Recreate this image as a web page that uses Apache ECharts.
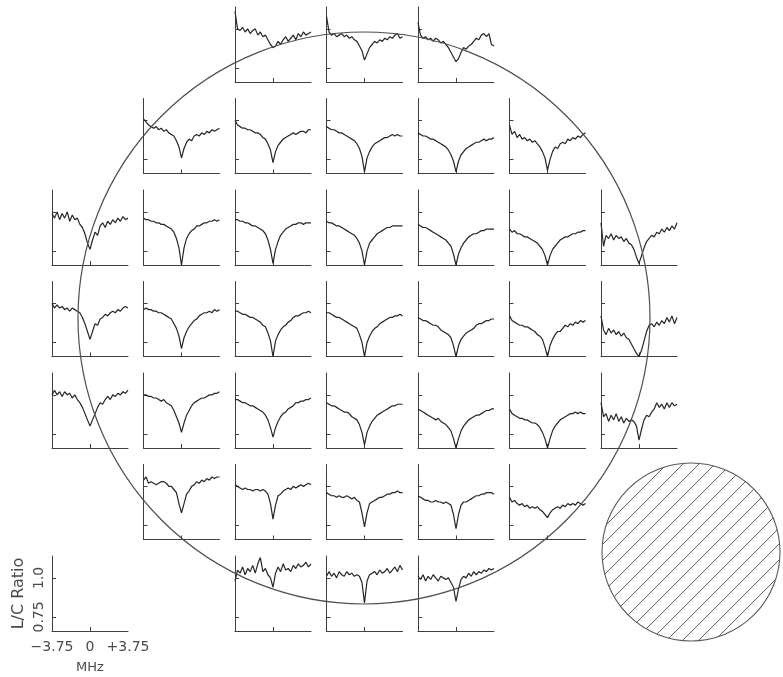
<!DOCTYPE html>
<html><head><meta charset="utf-8">
<script src="https://cdn.jsdelivr.net/npm/echarts@6/dist/echarts.min.js"></script>
<style>html,body{margin:0;padding:0;background:#fff}#c{width:783px;height:677px}</style>
</head><body><div id="c"></div>
<script>
// frequency offset (MHz)
const MHZ = [-3.75,-3.5,-3.25,-3,-2.75,-2.5,-2.25,-2,-1.75,-1.5,-1.25,-1,-0.75,-0.5,-0.25,0,0.25,0.5,0.75,1,1.25,1.5,1.75,2,2.25,2.5,2.75,3,3.25,3.5,3.75];
const Y_TICKS = [0.75, 1.0];
const X_TICK_LABELS = [-3.75, 0, 3.75];

// L/C ratio spectra, named by row / column of the wafer grid
const R0C2 = [1.11,1.00,0.99,1.01,0.98,1.00,0.97,0.99,1.00,0.96,0.98,0.95,0.96,0.93,0.90,0.88,0.89,0.92,0.90,0.93,0.95,0.92,0.94,0.96,0.93,0.97,0.95,0.98,0.96,0.97,0.98];
const R0C3 = [1.08,0.98,0.96,0.97,0.95,0.96,0.97,0.95,0.96,0.94,0.95,0.93,0.92,0.89,0.86,0.80,0.84,0.88,0.90,0.92,0.91,0.93,0.92,0.94,0.93,0.95,0.94,0.96,0.97,0.94,0.95];
const R0C4 = [1.04,0.96,0.94,0.95,0.93,0.94,0.92,0.94,0.93,0.91,0.92,0.90,0.88,0.85,0.82,0.79,0.81,0.85,0.88,0.87,0.89,0.90,0.92,0.94,0.93,0.96,0.97,0.95,0.97,0.90,0.89];

const R1C1 = [1.01,0.99,0.97,0.96,0.95,0.96,0.94,0.95,0.93,0.94,0.92,0.91,0.90,0.87,0.83,0.76,0.82,0.86,0.88,0.87,0.90,0.91,0.90,0.92,0.91,0.93,0.92,0.94,0.93,0.94,0.95];
const R1C2 = [1.00,0.97,0.96,0.95,0.95,0.94,0.94,0.93,0.92,0.92,0.91,0.89,0.88,0.85,0.81,0.73,0.80,0.84,0.86,0.88,0.89,0.90,0.91,0.92,0.91,0.92,0.93,0.93,0.92,0.94,0.94];
const R1C3 = [0.96,0.95,0.94,0.94,0.93,0.92,0.92,0.91,0.90,0.89,0.88,0.87,0.85,0.82,0.77,0.67,0.76,0.80,0.83,0.85,0.86,0.87,0.88,0.89,0.89,0.90,0.91,0.90,0.91,0.90,0.90];
const R1C4 = [0.92,0.91,0.90,0.90,0.89,0.88,0.88,0.87,0.86,0.85,0.84,0.83,0.81,0.78,0.74,0.67,0.74,0.78,0.80,0.82,0.83,0.84,0.85,0.86,0.86,0.87,0.88,0.87,0.88,0.88,0.89];
const R1C5 = [0.97,0.91,0.93,0.89,0.91,0.88,0.89,0.87,0.88,0.86,0.87,0.85,0.83,0.80,0.76,0.68,0.75,0.80,0.83,0.82,0.85,0.86,0.85,0.88,0.87,0.89,0.88,0.90,0.89,0.91,0.92];

const R2C0 = [0.99,0.96,1.00,0.95,0.99,0.96,1.00,0.94,0.98,0.95,0.96,0.92,0.90,0.86,0.80,0.76,0.82,0.87,0.85,0.91,0.93,0.90,0.94,0.92,0.95,0.93,0.96,0.94,0.97,0.95,0.96];
const R2C1 = [0.96,0.95,0.95,0.94,0.94,0.93,0.93,0.92,0.92,0.91,0.90,0.89,0.87,0.83,0.77,0.66,0.77,0.83,0.86,0.88,0.89,0.91,0.91,0.92,0.93,0.93,0.94,0.94,0.95,0.94,0.95];
const R2C2 = [0.95,0.95,0.94,0.94,0.93,0.93,0.92,0.91,0.91,0.90,0.89,0.88,0.86,0.82,0.76,0.67,0.76,0.81,0.85,0.87,0.89,0.90,0.91,0.92,0.92,0.93,0.93,0.92,0.93,0.93,0.93];
const R2C3 = [0.94,0.93,0.93,0.92,0.91,0.91,0.90,0.89,0.88,0.87,0.86,0.85,0.83,0.80,0.75,0.66,0.75,0.80,0.82,0.84,0.86,0.87,0.88,0.89,0.90,0.90,0.91,0.91,0.91,0.91,0.91];
const R2C4 = [0.92,0.91,0.90,0.90,0.89,0.88,0.87,0.86,0.85,0.84,0.83,0.82,0.80,0.78,0.73,0.66,0.73,0.77,0.80,0.82,0.84,0.85,0.86,0.86,0.87,0.88,0.88,0.89,0.89,0.89,0.89];
const R2C5 = [0.89,0.87,0.88,0.86,0.86,0.85,0.84,0.84,0.83,0.82,0.81,0.80,0.78,0.76,0.72,0.66,0.72,0.76,0.78,0.80,0.82,0.83,0.84,0.84,0.85,0.86,0.86,0.87,0.87,0.88,0.88];
const R2C6 = [0.93,0.78,0.85,0.83,0.86,0.82,0.85,0.83,0.84,0.81,0.83,0.80,0.79,0.76,0.71,0.67,0.72,0.77,0.81,0.83,0.85,0.84,0.87,0.86,0.89,0.87,0.90,0.88,0.91,0.89,0.93];

const R3C0 = [1.00,0.97,0.99,0.97,0.98,0.96,0.97,0.95,0.97,0.96,0.95,0.94,0.91,0.87,0.82,0.77,0.82,0.87,0.86,0.90,0.91,0.93,0.92,0.94,0.95,0.94,0.96,0.95,0.97,0.98,0.97];
const R3C1 = [0.96,0.97,0.96,0.96,0.95,0.95,0.94,0.94,0.93,0.92,0.91,0.90,0.87,0.84,0.79,0.71,0.78,0.82,0.85,0.87,0.89,0.90,0.92,0.93,0.94,0.94,0.95,0.94,0.96,0.95,0.96];
const R3C2 = [0.95,0.95,0.94,0.93,0.93,0.92,0.91,0.91,0.90,0.89,0.88,0.86,0.85,0.81,0.76,0.66,0.76,0.80,0.83,0.85,0.86,0.88,0.89,0.91,0.92,0.92,0.93,0.94,0.94,0.95,0.94];
const R3C3 = [0.94,0.94,0.93,0.92,0.91,0.91,0.90,0.89,0.88,0.87,0.86,0.85,0.84,0.80,0.75,0.66,0.75,0.79,0.82,0.84,0.85,0.87,0.88,0.89,0.90,0.91,0.91,0.92,0.92,0.93,0.92];
const R3C4 = [0.91,0.90,0.89,0.89,0.88,0.87,0.86,0.86,0.85,0.83,0.82,0.81,0.80,0.78,0.73,0.66,0.73,0.77,0.79,0.81,0.82,0.83,0.84,0.86,0.87,0.87,0.88,0.89,0.89,0.90,0.90];
const R3C5 = [0.92,0.89,0.88,0.87,0.86,0.86,0.85,0.85,0.84,0.83,0.82,0.80,0.79,0.77,0.72,0.66,0.73,0.77,0.80,0.82,0.82,0.84,0.86,0.85,0.87,0.86,0.88,0.87,0.89,0.88,0.89];
const R3C6 = [0.92,0.83,0.80,0.84,0.81,0.83,0.80,0.82,0.79,0.81,0.78,0.77,0.74,0.71,0.68,0.66,0.70,0.76,0.82,0.86,0.87,0.85,0.88,0.86,0.89,0.87,0.91,0.88,0.92,0.87,0.91];

const R4C0 = [1.00,1.03,1.00,1.02,0.99,1.02,1.00,1.01,0.98,1.00,0.97,0.95,0.92,0.88,0.84,0.80,0.84,0.88,0.92,0.95,0.94,0.97,0.99,0.97,1.00,0.99,1.01,1.00,1.02,1.01,1.03];
const R4C1 = [1.00,1.00,0.99,0.99,0.98,0.98,0.97,0.96,0.97,0.95,0.94,0.93,0.90,0.86,0.82,0.76,0.82,0.87,0.90,0.93,0.95,0.96,0.97,0.98,0.98,0.99,1.00,1.00,1.01,1.01,1.02];
const R4C2 = [0.97,0.97,0.96,0.95,0.95,0.94,0.93,0.93,0.92,0.91,0.90,0.89,0.87,0.84,0.79,0.73,0.79,0.83,0.86,0.88,0.89,0.91,0.92,0.93,0.95,0.95,0.96,0.96,0.97,0.97,0.98];
const R4C3 = [0.95,0.94,0.93,0.93,0.92,0.91,0.90,0.89,0.89,0.88,0.86,0.85,0.84,0.81,0.76,0.68,0.76,0.80,0.83,0.85,0.87,0.88,0.89,0.90,0.91,0.92,0.93,0.93,0.94,0.94,0.94];
const R4C4 = [0.91,0.90,0.89,0.88,0.87,0.86,0.85,0.84,0.85,0.83,0.82,0.81,0.79,0.77,0.72,0.66,0.72,0.77,0.80,0.82,0.84,0.85,0.86,0.87,0.87,0.88,0.89,0.90,0.90,0.91,0.91];
const R4C5 = [0.91,0.88,0.87,0.86,0.85,0.85,0.84,0.84,0.83,0.82,0.82,0.81,0.79,0.76,0.72,0.66,0.72,0.77,0.80,0.82,0.84,0.85,0.86,0.87,0.88,0.88,0.89,0.88,0.89,0.88,0.88];
const R4C6 = [0.95,0.86,0.88,0.83,0.87,0.84,0.88,0.83,0.86,0.82,0.85,0.83,0.84,0.83,0.80,0.71,0.78,0.84,0.87,0.86,0.89,0.91,0.95,0.92,0.94,0.91,0.95,0.92,0.95,0.93,0.94];

const R5C1 = [1.04,1.06,1.02,1.03,1.02,1.01,1.02,1.03,1.03,1.02,1.00,1.00,0.98,0.96,0.89,0.83,0.89,0.95,0.97,1.00,1.01,1.03,1.02,1.04,1.03,1.05,1.04,1.06,1.05,1.06,1.06];
const R5C2 = [1.01,1.00,0.99,0.98,0.99,0.98,0.98,0.97,0.98,0.98,0.97,0.98,0.97,0.95,0.89,0.79,0.88,0.94,0.95,0.97,0.98,0.99,0.98,1.00,0.99,1.00,1.01,1.00,1.01,1.02,1.01];
const R5C3 = [0.96,0.95,0.94,0.94,0.93,0.94,0.93,0.93,0.94,0.93,0.92,0.93,0.91,0.90,0.83,0.74,0.83,0.89,0.90,0.91,0.92,0.93,0.93,0.94,0.95,0.95,0.96,0.96,0.97,0.96,0.96];
const R5C4 = [0.94,0.93,0.92,0.91,0.91,0.90,0.90,0.91,0.90,0.90,0.89,0.90,0.89,0.88,0.82,0.73,0.82,0.88,0.90,0.90,0.91,0.92,0.93,0.94,0.94,0.95,0.95,0.96,0.96,0.96,0.95];
const R5C5 = [0.93,0.90,0.91,0.89,0.88,0.89,0.87,0.88,0.86,0.87,0.86,0.87,0.85,0.84,0.82,0.80,0.83,0.85,0.86,0.87,0.86,0.88,0.87,0.89,0.88,0.89,0.88,0.90,0.89,0.88,0.89];

const R6C2 = [0.98,1.05,1.03,1.07,1.02,1.06,1.04,1.08,1.03,1.09,1.13,1.04,1.06,1.02,1.00,0.94,1.03,1.07,1.04,1.09,1.05,1.06,1.04,1.08,1.06,1.09,1.07,1.08,1.10,1.07,1.09];
const R6C3 = [1.01,1.04,1.01,1.03,1.00,1.04,1.02,1.01,1.04,1.02,1.03,1.01,1.02,1.01,0.97,0.84,0.98,1.02,1.03,1.04,1.02,1.05,1.03,1.04,1.06,1.03,1.05,1.07,1.04,1.08,1.05];
const R6C4 = [1.01,0.99,1.02,0.98,1.01,0.99,1.02,1.00,0.98,1.01,1.00,0.99,1.00,0.97,0.94,0.85,0.93,0.99,1.01,1.00,1.03,1.01,1.04,1.02,1.04,1.03,1.05,1.04,1.06,1.05,1.06];

const PANELS = [
  [0,2,R0C2],[0,3,R0C3],[0,4,R0C4],
  [1,1,R1C1],[1,2,R1C2],[1,3,R1C3],[1,4,R1C4],[1,5,R1C5],
  [2,0,R2C0],[2,1,R2C1],[2,2,R2C2],[2,3,R2C3],[2,4,R2C4],[2,5,R2C5],[2,6,R2C6],
  [3,0,R3C0],[3,1,R3C1],[3,2,R3C2],[3,3,R3C3],[3,4,R3C4],[3,5,R3C5],[3,6,R3C6],
  [4,0,R4C0],[4,1,R4C1],[4,2,R4C2],[4,3,R4C3],[4,4,R4C4],[4,5,R4C5],[4,6,R4C6],
  [5,1,R5C1],[5,2,R5C2],[5,3,R5C3],[5,4,R5C4],[5,5,R5C5],
  [6,2,R6C2],[6,3,R6C3],[6,4,R6C4]
];

const AX = '#3f3f3f', LN = '#262626', TX = '#4a4a4a';
const FONT = 'DejaVu Sans, sans-serif';
const grids = [], xAxes = [], yAxes = [], series = [];

function addGrid(r, c, vals, legend) {
  const gi = grids.length;
  grids.push({left: 52 + 91.5 * c, top: 7 + 91.5 * r, width: 76, height: 75});
  xAxes.push({
    type: 'value', gridIndex: gi, min: -3.75, max: 3.75,
    splitLine: {show: false},
    axisLine: {show: true, onZero: false, lineStyle: {color: AX, width: 1}},
    axisTick: {show: true, inside: true, length: 4, customValues: [0], lineStyle: {color: AX}},
    axisLabel: legend ? {show: true, customValues: X_TICK_LABELS, margin: 9, color: TX, fontSize: 14, fontFamily: FONT,
      formatter: v => v < 0 ? '\u22123.75' : (v > 0 ? '+3.75' : '0')} : {show: false},
    name: legend ? 'MHz' : '', nameLocation: 'middle', nameGap: 30,
    nameTextStyle: {color: TX, fontSize: 13, fontFamily: FONT}
  });
  yAxes.push({
    type: 'value', gridIndex: gi, min: 0.66, max: 1.14,
    splitLine: {show: false},
    axisLine: {show: true, onZero: false, lineStyle: {color: AX, width: 1}},
    axisTick: {show: true, inside: true, length: 4, customValues: Y_TICKS, lineStyle: {color: AX}},
    axisLabel: legend ? {show: true, customValues: Y_TICKS, rotate: 90, margin: 6, color: TX, fontSize: 14, fontFamily: FONT,
      formatter: v => v === 1 ? '1.0' : '0.75'} : {show: false},
    name: legend ? 'L/C Ratio' : '', nameLocation: 'middle', nameRotate: 90, nameGap: 25,
    nameTextStyle: {color: TX, fontSize: 16, fontFamily: FONT}
  });
  series.push({
    type: 'line', xAxisIndex: gi, yAxisIndex: gi, showSymbol: false, silent: true,
    lineStyle: {color: LN, width: 1.2},
    data: vals ? vals.map((v, i) => [MHZ[i], v]) : []
  });
}

PANELS.forEach(p => addGrid(p[0], p[1], p[2], false));
addGrid(6, 0, null, true);

// decorative outlines
const graphics = [
  {type: 'circle', shape: {cx: 364, cy: 318, r: 286}, style: {fill: 'none', stroke: '#4f4f4f', lineWidth: 1.2}, z: 100, silent: true},
  {type: 'circle', shape: {cx: 691, cy: 552, r: 89}, style: {fill: 'none', stroke: '#5a5a5a', lineWidth: 1.1}, z: 100, silent: true}
];
(function () {
  const cx = 691, cy = 552, r = 89, step = 16;
  for (let o = -7 * step; o <= 7 * step; o += step) {
    const d = Math.abs(o) / Math.SQRT2;
    if (d >= r) continue;
    const h = Math.sqrt(r * r - d * d) / Math.SQRT2;
    const px = cx + o / 2, py = cy + o / 2;
    graphics.push({type: 'line', shape: {x1: px - h, y1: py + h, x2: px + h, y2: py - h},
      style: {stroke: '#5a5a5a', lineWidth: 1}, z: 100, silent: true});
  }
})();

const chart = echarts.init(document.getElementById('c'), null, {renderer: 'canvas'});
chart.setOption({
  animation: false,
  backgroundColor: '#fff',
  grid: grids, xAxis: xAxes, yAxis: yAxes, series: series,
  graphic: graphics
});
</script>
</body></html>
